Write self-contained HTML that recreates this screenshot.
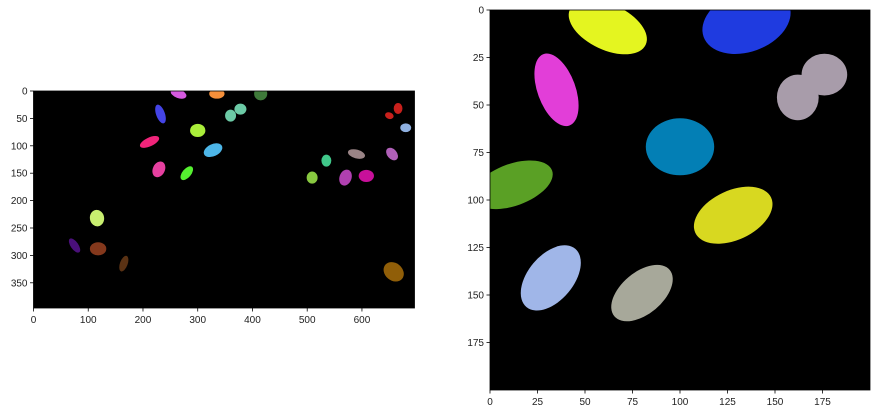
<!DOCTYPE html>
<html><head><meta charset="utf-8"><style>
body{margin:0;background:#fff;width:877px;height:414px;overflow:hidden}
svg text{font-family:"Liberation Sans","DejaVu Sans",sans-serif;font-size:10px;fill:#222}
</style></head><body>
<svg id="fig" width="877" height="414" xmlns="http://www.w3.org/2000/svg"></svg>
<script>
// Left panel data (image 696x396)
const leftXTicks=[0,100,200,300,400,500,600];
const leftYTicks=[0,50,100,150,200,250,300,350];
const leftBlobs=[
 [265,5,15,8,20,'#d65ae0'],[335,5,14,9,0,'#f58f3a'],[415,5,12,12,0,'#3f7a3a'],
 [232,42,8,18,-20,'#4444e6'],[360,45,10,11,0,'#6ccaa6'],[378,33,11,10,0,'#6ccaa6'],
 [300,72,14,12,0,'#aaee3a'],[212,93,19,8,-25,'#f0247a'],[328,108,18,11,-25,'#4db6e8'],
 [229,143,11,15,25,'#e640a0'],[280,150,8,15,40,'#55f030'],[650,45,8,6,20,'#c8201c'],
 [666,32,8,10,0,'#c8201c'],[680,67,10,8,0,'#8fb0e0'],[655,115,9,13,-40,'#b060b8'],
 [590,115,16,8,15,'#9a8486'],[535,127,9,11,0,'#40c88a'],[509,158,10,11,0,'#88c840'],
 [570,158,11,15,20,'#b040b0'],[608,155,14,11,0,'#c8109a'],[116,232,13,15,-10,'#c8ee70'],
 [75,282,7,15,-35,'#4a107a'],[118,288,15,12,0,'#84381c'],[165,315,7,15,20,'#5a3214'],
 [658,330,20,16,40,'#905e08']
];
// Right panel data (200x200)
const rightTicks=[0,25,50,75,100,125,150,175];
const rightBlobs=[
 [62,9,22,12,25,'#e4f520'],[135,6,24,16,-20,'#1f3be0'],[35,42,10,20,-20,'#e23ed8'],
 [162,46,11,12,0,'#a89caa'],[176,34,12,11,0,'#a89caa'],[100,72,18,15,0,'#037fb5'],
 [12,92,22,11,-20,'#5aa025'],[128,108,22,13,-25,'#d8d820'],[32,141,12,20,40,'#a0b6e8'],
 [80,149,11,19,50,'#a7a89a']
];
const NS='http://www.w3.org/2000/svg';
const svg=document.getElementById('fig');
function mk(t,a,p){const e=document.createElementNS(NS,t);for(const k in a)e.setAttribute(k,a[k]);(p||svg).appendChild(e);return e;}
function panel(name,x0,y0,w,h,W,H,xt,yt,blobs){
 const sx=v=>x0+v*w/W, sy=v=>y0+v*h/H;
 const g=mk('g',{});
 
 
 const cid=name+'-clip';
 const cp=mk('clipPath',{id:cid},g);mk('rect',{x:x0,y:y0,width:w,height:h},cp);
 const bg=mk('rect',{x:x0,y:y0,width:w,height:h,fill:'#000'},g);
 
 
 const bl=mk('g',{'clip-path':'url(#'+cid+')'},g);
 blobs.forEach((b,i)=>{
  const e=mk('ellipse',{cx:sx(b[0]),cy:sy(b[1]),rx:b[2]*w/W,ry:b[3]*h/H,fill:b[5],transform:`rotate(${b[4]} ${sx(b[0])} ${sy(b[1])})`},bl);
  
  
 });
 const fr=mk('rect',{x:x0,y:y0,width:w,height:h,fill:'none',stroke:'#000','stroke-width':0.8},g);
 
 
 xt.forEach(v=>{
  mk('line',{x1:sx(v),x2:sx(v),y1:y0+h,y2:y0+h+3.5,stroke:'#000','stroke-width':0.8},g);
  const t=mk('text',{x:sx(v),y:y0+h+15,'text-anchor':'middle'},g);t.textContent=v;
  
  
 });
 yt.forEach(v=>{
  mk('line',{x1:x0-3.5,x2:x0,y1:sy(v),y2:sy(v),stroke:'#000','stroke-width':0.8},g);
  const t=mk('text',{x:x0-6,y:sy(v)+3.5,'text-anchor':'end'},g);t.textContent=v;
  
  
 });
}
panel('left-image-panel',33.5,91,381,217,696,396,leftXTicks,leftYTicks,leftBlobs);
panel('right-image-panel',490,10,380,380,200,200,rightTicks,rightTicks,rightBlobs);
</script>
</body></html>
